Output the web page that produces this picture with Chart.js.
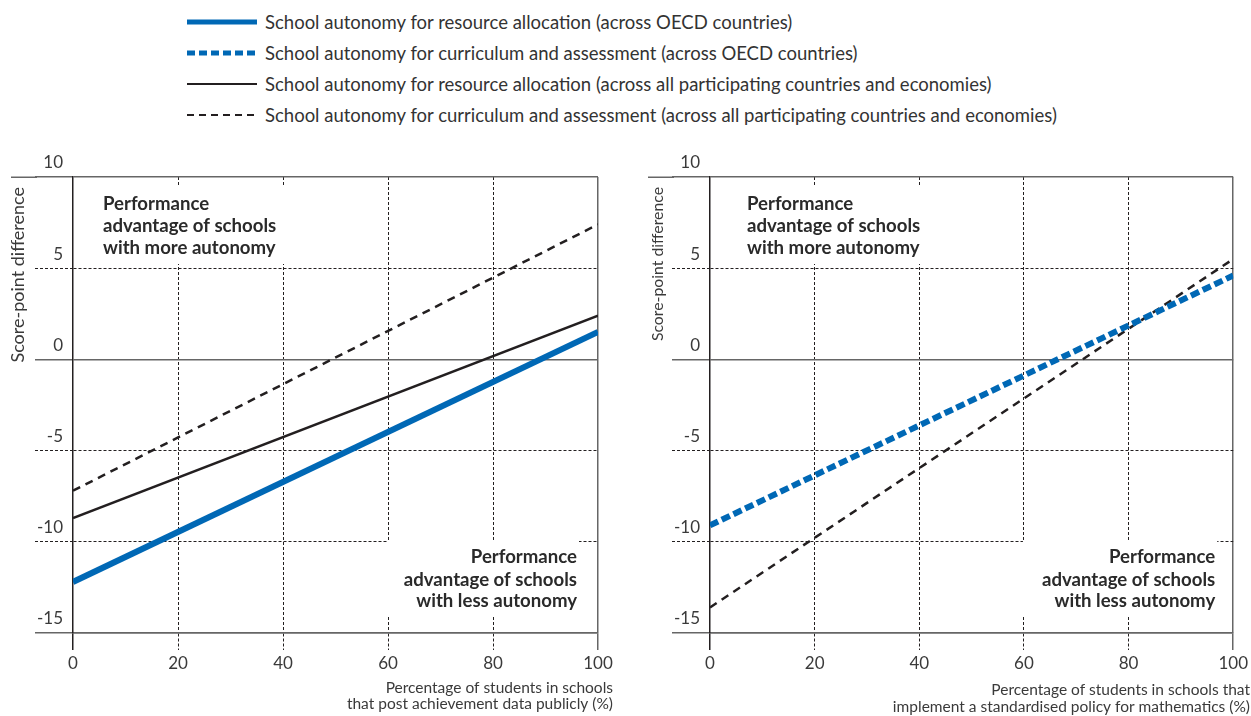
<!DOCTYPE html>
<html><head><meta charset="utf-8">
<script src="https://cdn.jsdelivr.net/npm/chart.js@4.4.1/dist/chart.umd.min.js"></script>
<style>
html,body{margin:0;padding:0;background:#fff;}
body{width:1251px;height:716px;position:relative;overflow:hidden;font-family:Lato,"Noto Sans",sans-serif;}
.lg-line{position:absolute;left:187px;}
.lg-text{position:absolute;left:265px;font-size:18.5px;line-height:18px;color:#333;white-space:nowrap;}
canvas{position:absolute;top:140px;}
</style>
</head><body>
<div id="legend"></div>
<canvas id="c1" width="625" height="576" style="left:0;width:625px;height:576px;"></canvas>
<canvas id="c2" width="626" height="576" style="left:625px;width:626px;height:576px;"></canvas>
<script>
// ---------- data ----------
const xTicks = [0, 20, 40, 60, 80, 100];
const yTicks = [-15, -10, -5, 0, 5, 10];
const xEnds = [0, 100];
const leftResourceOECD = [-12.2, 1.5];
const leftResourceAll = [-8.7, 2.4];
const leftCurriculumAll = [-7.2, 7.4];
const rightCurriculumOECD = [-9.1, 4.6];
const rightCurriculumAll = [-13.6, 5.5];
const seriesLabels = [
  'School autonomy for resource allocation (across OECD countries)',
  'School autonomy for curriculum and assessment (across OECD countries)',
  'School autonomy for resource allocation (across all participating countries and economies)',
  'School autonomy for curriculum and assessment (across all participating countries and economies)'
];
const annotationTop = ['Performance', 'advantage of schools', 'with more autonomy'];
const annotationBottom = ['Performance', 'advantage of schools', 'with less autonomy'];
const yTitle = 'Score-point difference';
const leftXTitle = ['Percentage of students in schools', 'that post achievement data publicly (%)'];
const rightXTitle = ['Percentage of students in schools that', 'implement a standardised policy for mathematics (%)'];

// ---------- styles ----------
const FONT = 'Lato, "Noto Sans", sans-serif';
const BLUE = '#0068b5';
const INK = '#231f20';
const GRAY = '#666666';
const TXT = '#3a3a3a';
const styles = [
  {color: BLUE, width: 6, dash: [], lgWidth: 5, lgDash: ''},
  {color: BLUE, width: 6, dash: [9, 4], lgWidth: 5, lgDash: '8 4'},
  {color: INK, width: 2.5, dash: [], lgWidth: 2.2, lgDash: ''},
  {color: INK, width: 2.5, dash: [8, 6], lgWidth: 2.2, lgDash: '7 5'}
];

// ---------- legend ----------
const lgCenters = [22, 53, 84, 115];
const legend = document.getElementById('legend');
seriesLabels.forEach((lab, i) => {
  const s = styles[i];
  const c = lgCenters[i];
  const svg = `<svg class="lg-line" style="top:${c - 5}px" width="70" height="10"><line x1="0" y1="5" x2="70" y2="5" stroke="${s.color}" stroke-width="${s.lgWidth}" ${s.lgDash ? `stroke-dasharray="${s.lgDash}"` : ''}/></svg>`;
  const txt = `<div class="lg-text" style="top:${c - 9}px">${lab}</div>`;
  legend.insertAdjacentHTML('beforeend', svg + txt);
});

function pts(ys) { return xEnds.map((x, i) => ({x: x, y: ys[i]})); }
function ds(ys, k) {
  const s = styles[k];
  return {label: seriesLabels[k], data: pts(ys), borderColor: s.color, backgroundColor: s.color,
    borderWidth: s.width, borderDash: s.dash, pointRadius: 0, fill: false, tension: 0, borderCapStyle: 'butt'};
}

const ySolid = v => v === 10 || v === 0 || v === -15;
const xSolid = v => v === 0 || v === 100;

function scales(yWidth) {
  return {
    x: {
      type: 'linear', min: 0, max: 100,
      afterBuildTicks: s => { s.ticks = xTicks.map(v => ({value: v})); },
      ticks: {font: {family: FONT, size: 17}, color: TXT, padding: 3, maxRotation: 0, autoSkip: false},
      grid: {
        color: c => (c.tick && c.tick.value === 0) ? 'rgba(0,0,0,0)' : (c.tick && c.tick.value === 100 ? GRAY : INK),
        lineWidth: c => (c.tick && xSolid(c.tick.value)) ? 1.5 : 1,
        tickLength: 17,
        tickColor: c => (c.tick && c.tick.value === 100) ? GRAY : INK,
        tickWidth: c => (c.tick && xSolid(c.tick.value)) ? 1.5 : 1,
        tickBorderDash: c => (c.tick && xSolid(c.tick.value)) ? [] : [3, 2]
      },
      border: {display: true, color: GRAY, width: 1.5,
        dash: c => (c.tick && !xSolid(c.tick.value)) ? [3, 2] : []},
      afterFit: s => { s.height = 83; }
    },
    y: {
      type: 'linear', min: -15, max: 10,
      afterBuildTicks: s => { s.ticks = yTicks.map(v => ({value: v})); },
      ticks: {font: {family: FONT, size: 17}, color: TXT, padding: -28, labelOffset: -14},
      grid: {
        color: c => (c.tick && ySolid(c.tick.value)) ? GRAY : INK,
        lineWidth: c => (c.tick && ySolid(c.tick.value)) ? 1.5 : 1,
        tickLength: 38,
        tickColor: c => (c.tick && ySolid(c.tick.value)) ? GRAY : INK,
        tickWidth: c => (c.tick && ySolid(c.tick.value)) ? 1.5 : 1,
        tickBorderDash: c => (c.tick && ySolid(c.tick.value)) ? [] : [3, 2]
      },
      border: {display: true, color: INK, width: 1.5,
        dash: c => (c.tick && !ySolid(c.tick.value)) ? [3, 2] : []},
      afterFit: s => { s.width = yWidth; }
    }
  };
}

const decor = {
  id: 'decor',
  beforeDatasetsDraw(chart, args, o) {
    const {ctx, chartArea: a, scales: {x, y}} = chart;
    ctx.save();
    // top line extension into the label area
    const y10 = Math.round(y.getPixelForValue(10)) + 0.25;
    ctx.strokeStyle = GRAY; ctx.lineWidth = 1.5; ctx.setLineDash([]);
    ctx.beginPath(); ctx.moveTo(a.left - 62, y10); ctx.lineTo(a.left - 36, y10); ctx.stroke();
    // white boxes behind annotations
    ctx.fillStyle = '#ffffff';
    ctx.fillRect(a.left + o.topX - 5, a.top + 9, 192, 78);
    const bx = x.getPixelForValue(60) - 1, by = y.getPixelForValue(-10) - 1;
    ctx.fillRect(bx, by, a.right - o.botX + 2 - bx, a.bottom - 16 - by);
    // annotation text
    ctx.fillStyle = '#2a2a2a';
    ctx.font = `bold 18.6px ${FONT}`;
    ctx.textBaseline = 'alphabetic';
    ctx.textAlign = 'left';
    const topOff = [33, 55, 77];
    annotationTop.forEach((t, i) => ctx.fillText(t, a.left + o.topX, a.top + topOff[i]));
    ctx.textAlign = 'right';
    const botOff = [70, 47, 26];
    annotationBottom.forEach((t, i) => ctx.fillText(t, a.right - o.botX, a.bottom - botOff[i]));
    // y title
    ctx.fillStyle = TXT;
    ctx.font = `${o.yTitleSize}px ${FONT}`;
    ctx.save();
    ctx.translate(o.yTitleX, a.top + 10);
    ctx.rotate(-Math.PI / 2);
    ctx.textAlign = 'right';
    ctx.textBaseline = 'middle';
    ctx.fillText(yTitle, 0, 0);
    ctx.restore();
    // x title
    ctx.font = `15.5px ${FONT}`;
    ctx.textAlign = 'right';
    ctx.textBaseline = 'alphabetic';
    o.xTitle.forEach((t, i) => ctx.fillText(t, o.xTitleRight, a.bottom + o.xTitleBase[i]));
    ctx.restore();
  }
};

function make(id, datasets, yWidth, padRight, opts) {
  return new Chart(document.getElementById(id), {
    type: 'line',
    data: {datasets: datasets},
    options: {
      responsive: false, animation: false, maintainAspectRatio: false,
      layout: {padding: {top: 37, left: 0, right: padRight, bottom: 0}},
      plugins: {legend: {display: false}, tooltip: {enabled: false}, decor: opts},
      scales: scales(yWidth)
    },
    plugins: [decor]
  });
}

make('c1', [ds(leftResourceOECD, 0), ds(leftResourceAll, 2), ds(leftCurriculumAll, 3)], 73, 27,
  {yTitleSize: 18, yTitleX: 18, topX: 30, botX: 21, xTitle: leftXTitle, xTitleRight: 613, xTitleBase: [60, 76]});
make('c2', [ds(rightCurriculumOECD, 1), ds(rightCurriculumAll, 3)], 85, 16,
  {yTitleSize: 15.8, yTitleX: 33, topX: 37, botX: 18, xTitle: rightXTitle, xTitleRight: 625, xTitleBase: [62, 79]});
</script>
</body></html>
